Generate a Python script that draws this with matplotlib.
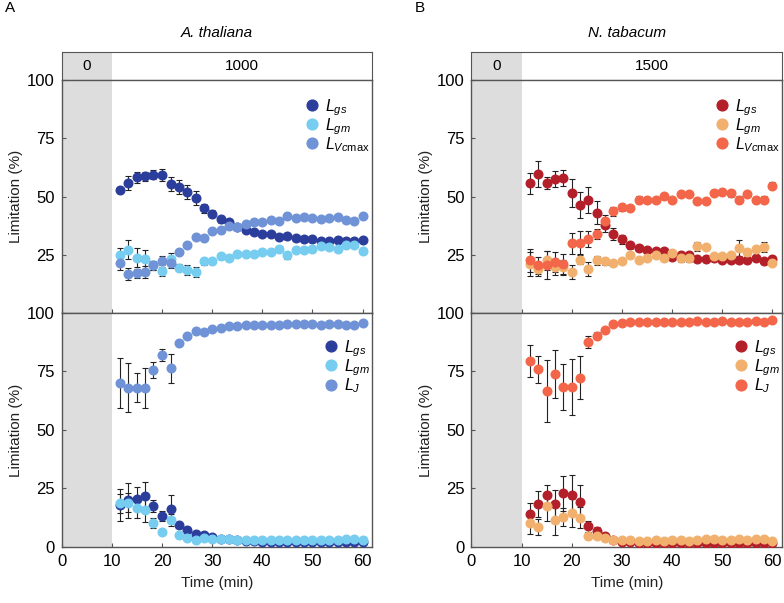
import numpy as np
import matplotlib
matplotlib.use("Agg")
import matplotlib.pyplot as plt

plt.rcParams['font.family'] = ['Liberation Sans', 'DejaVu Sans']
plt.rcParams['mathtext.fontset'] = 'custom'
plt.rcParams['mathtext.it'] = 'Liberation Sans:italic'
plt.rcParams['mathtext.rm'] = 'Liberation Sans'
plt.rcParams['mathtext.sf'] = 'Liberation Sans'

# tempos de amostragem (min)
time = [11.7, 13.3, 15.0, 16.7, 18.3, 20.0, 21.7, 23.3, 25.0, 26.7,
        28.3, 30.0, 31.7, 33.3, 35.0, 36.7, 38.3, 40.0, 41.7, 43.3,
        45.0, 46.7, 48.3, 50.0, 51.7, 53.3, 55.0, 56.7, 58.3, 60.0]

# A. thaliana, painel superior
at_gs = [52.9, 55.8, 58.2, 58.7, 59.4, 59.2, 55.3, 53.9, 52.0, 49.3,
         44.9, 42.5, 40.2, 39.0, 37.0, 35.8, 34.8, 34.1, 33.7, 32.7,
         32.9, 32.1, 31.8, 31.6, 31.1, 31.1, 31.2, 31.1, 31.1, 31.4]
at_gs_err = [1.0, 3.0, 2.5, 2.0, 2.0, 2.5, 3.0, 3.0, 3.0, 3.0,
             2.0, 1.5, 1.5, 1.5, 1.0, 1.0, 1.0, 1.0, 1.0, 1.0,
             1.0, 1.0, 1.0, 1.0, 1.0, 1.0, 1.0, 1.0, 1.0, 1.0]
at_gm = [25.1, 27.2, 23.8, 23.1, 20.4, 17.9, 23.3, 19.5, 18.5, 17.6,
         22.3, 22.3, 24.3, 23.7, 25.3, 25.3, 25.3, 26.3, 26.3, 27.6,
         24.7, 27.2, 27.2, 27.5, 28.6, 28.3, 27.3, 29.3, 29.3, 26.6]
at_gm_err = [3.0, 4.0, 4.0, 4.0, 2.0, 2.0, 2.5, 1.5, 2.0, 2.0,
             1.5, 1.0, 1.0, 1.0, 1.0, 1.0, 1.0, 1.0, 1.0, 1.0,
             1.5, 1.0, 1.0, 1.0, 1.0, 1.0, 1.0, 1.0, 1.0, 1.0]
at_vc = [21.5, 16.8, 17.1, 17.5, 20.4, 22.5, 21.4, 26.2, 29.0, 32.7,
         32.2, 35.1, 35.5, 37.3, 37.0, 38.0, 39.2, 39.2, 39.9, 39.6,
         41.8, 40.6, 41.0, 40.6, 40.3, 40.6, 41.2, 39.9, 39.7, 41.8]
at_vc_err = [3.0, 2.5, 2.0, 2.5, 2.0, 2.0, 2.0, 1.0, 1.0, 1.0,
             1.0, 1.0, 1.0, 1.0, 1.0, 1.0, 1.0, 1.0, 1.0, 1.0,
             1.0, 1.0, 1.0, 1.0, 1.0, 1.0, 1.0, 1.0, 1.0, 1.0]

# A. thaliana, painel inferior
at_gs2 = [17.9, 20.0, 20.7, 21.7, 17.4, 13.3, 16.1, 9.3, 7.4, 5.7,
          5.3, 4.3, 3.6, 3.6, 2.9, 2.6, 2.4, 2.3, 2.3, 2.2,
          2.2, 2.1, 2.1, 2.1, 2.1, 2.0, 2.0, 2.0, 2.0, 2.0]
at_gs2_err = [7.0, 7.5, 5.0, 6.0, 2.5, 2.0, 6.0, 1.0, 1.0, 0.8,
              0.8, 0.8, 0.8, 0.8, 0.8, 0.8, 0.8, 0.8, 0.8, 0.8,
              0.8, 0.8, 0.8, 0.8, 0.8, 0.8, 0.8, 0.8, 0.8, 0.8]
at_gm2 = [18.6, 18.9, 16.7, 15.7, 10.3, 6.4, 11.4, 5.0, 4.0, 2.9,
          4.0, 3.3, 3.6, 3.3, 3.1, 3.0, 3.0, 3.0, 3.0, 3.0,
          3.1, 2.9, 3.0, 3.0, 3.0, 2.9, 3.0, 3.2, 3.2, 3.0]
at_gm2_err = [4.0, 4.0, 4.5, 5.0, 2.0, 1.0, 2.5, 0.8, 0.8, 0.8,
              0.8, 0.8, 0.8, 0.8, 0.8, 0.8, 0.8, 0.8, 0.8, 0.8,
              0.8, 0.8, 0.8, 0.8, 0.8, 0.8, 0.8, 0.8, 0.8, 0.8]
at_j = [70.0, 68.1, 68.1, 68.1, 75.6, 82.1, 76.3, 87.1, 90.0, 92.1,
        91.7, 93.1, 93.6, 94.3, 94.6, 94.7, 94.7, 94.9, 95.0, 94.9,
        95.4, 95.1, 95.1, 95.1, 95.0, 95.1, 95.1, 94.9, 94.9, 95.7]
at_j_err = [10.7, 10.4, 6.3, 8.5, 3.5, 2.5, 6.3, 1.0, 0.8, 0.8,
            0.8, 0.8, 0.8, 0.8, 0.8, 0.8, 0.8, 0.8, 0.8, 0.8,
            0.8, 0.8, 0.8, 0.8, 0.8, 0.8, 0.8, 0.8, 0.8, 0.8]

# N. tabacum, painel superior
nt_gs = [55.7, 59.6, 55.9, 57.6, 58.0, 51.6, 46.4, 48.6, 43.0, 37.6,
         34.0, 31.6, 29.0, 28.0, 27.1, 26.6, 26.6, 24.0, 25.1, 25.1,
         23.0, 23.0, 23.7, 22.6, 22.9, 22.6, 22.6, 23.6, 22.3, 23.3]
nt_gs_err = [4.5, 5.5, 2.5, 3.5, 3.5, 6.0, 5.5, 5.5, 5.0, 3.0,
             2.5, 2.0, 1.5, 1.2, 1.0, 1.0, 1.0, 1.0, 1.0, 1.0,
             1.0, 1.0, 1.0, 1.0, 1.0, 1.0, 1.0, 1.0, 1.0, 1.0]
nt_gm = [21.1, 19.0, 22.6, 19.7, 19.7, 17.4, 22.9, 18.7, 22.6, 22.3,
         21.4, 22.3, 24.7, 22.6, 23.6, 24.7, 23.4, 25.7, 23.6, 23.6,
         28.6, 28.3, 24.3, 24.4, 24.7, 27.9, 26.1, 27.3, 28.3, 21.4]
nt_gm_err = [5.0, 3.0, 4.0, 3.5, 3.0, 3.0, 2.0, 3.0, 2.0, 1.5,
             1.0, 1.0, 1.0, 1.0, 1.0, 1.0, 1.0, 1.0, 1.5, 1.5,
             2.0, 1.0, 1.0, 1.0, 1.0, 3.5, 1.0, 1.0, 2.0, 1.0]
nt_vc = [22.6, 20.4, 20.7, 21.9, 20.9, 30.0, 30.2, 31.7, 33.9, 39.4,
         43.7, 45.4, 45.1, 48.6, 48.7, 48.7, 50.1, 48.7, 50.9, 51.0,
         48.0, 48.0, 51.7, 52.1, 51.4, 48.6, 50.9, 48.7, 48.7, 54.7]
nt_vc_err = [5.0, 3.5, 6.0, 4.5, 4.5, 4.5, 5.0, 3.5, 2.0, 2.5,
             2.0, 1.5, 1.0, 1.5, 1.0, 1.0, 1.0, 1.0, 1.0, 1.0,
             1.0, 1.0, 1.0, 1.0, 1.5, 1.5, 1.0, 1.0, 1.5, 1.5]

# N. tabacum, painel inferior
nt_gs2 = [14.1, 18.3, 22.0, 18.3, 23.0, 22.4, 19.3, 8.8, 7.0, 4.5,
          2.8, 2.2, 2.0, 1.8, 1.8, 1.7, 1.7, 1.6, 1.6, 1.6,
          1.6, 1.5, 1.6, 1.5, 1.5, 1.6, 1.5, 1.6, 1.5, 1.5]
nt_gs2_err = [4.5, 5.5, 4.5, 6.0, 7.5, 8.5, 7.0, 2.5, 1.5, 1.0,
              0.8, 0.8, 0.8, 0.8, 0.8, 0.8, 0.8, 0.8, 0.8, 0.8,
              0.8, 0.8, 0.8, 0.8, 0.8, 0.8, 0.8, 0.8, 0.8, 0.8]
nt_gm2 = [10.2, 8.5, 17.3, 11.6, 12.8, 14.5, 12.4, 4.8, 4.8, 3.8,
          3.1, 2.8, 2.8, 2.7, 2.7, 2.8, 2.7, 2.8, 2.8, 2.7,
          2.8, 3.2, 3.3, 2.9, 2.8, 3.3, 3.0, 3.3, 3.3, 2.5]
nt_gm2_err = [4.5, 3.5, 6.0, 6.5, 4.0, 6.0, 4.5, 1.5, 1.0, 0.8,
              0.8, 0.8, 0.8, 0.8, 0.8, 0.8, 0.8, 0.8, 0.8, 0.8,
              0.8, 0.8, 0.8, 0.8, 0.8, 0.8, 0.8, 0.8, 0.8, 0.8]
nt_j = [79.5, 76.0, 66.8, 74.0, 68.5, 68.5, 72.4, 87.6, 90.2, 92.9,
        95.2, 95.7, 96.0, 96.0, 96.2, 96.2, 96.3, 96.2, 96.3, 96.3,
        96.4, 96.2, 96.0, 96.4, 96.3, 96.2, 96.0, 96.4, 96.2, 97.0]
nt_j_err = [6.9, 5.8, 13.2, 10.2, 9.8, 11.9, 9.1, 2.5, 1.5, 1.0,
            0.8, 0.8, 0.8, 0.8, 0.8, 0.8, 0.8, 0.8, 0.8, 0.8,
            0.8, 0.8, 0.8, 0.8, 0.8, 0.8, 0.8, 0.8, 0.8, 0.8]

blues = ['#2B3E9C', '#76CDEF', '#7092D6']
reds = ['#B4202A', '#F1B06E', '#F3664A']
shade = '#DCDDDC'
frame = '#555555'

fig = plt.figure(figsize=(7.84, 6.03), dpi=100)


def style(ax, yticks):
    ax.set_xlim(0, 61.9)
    ax.set_ylim(0, 100)
    ax.axvspan(0, 10, color=shade, lw=0, zorder=0)
    ax.set_yticks(yticks)
    ax.set_xticks([0, 10, 20, 30, 40, 50, 60])
    ax.tick_params(direction='in', length=3, labelsize=12, color=frame, pad=5)
    for s in ax.spines.values():
        s.set_color(frame)
        s.set_linewidth(1.0)
    ax.set_ylabel('Limitation (%)', fontsize=11, color='#222222', labelpad=3)


def series(ax, y, err, color, label):
    ax.errorbar(time, y, yerr=err, fmt='o', ms=6.2, color=color, mec=color,
                ecolor='#222222', elinewidth=0.8, capsize=2, capthick=0.8,
                label=label, zorder=3)


def panel(x0, colors, vals, light, title, letter):
    w = 0.396
    head = fig.add_axes([x0, 0.8673, w, 0.0464])
    head.set_xlim(0, 61.9)
    head.set_ylim(0, 1)
    head.axvspan(0, 10, color=shade, lw=0)
    head.set_xticks([])
    head.set_yticks([])
    for s in head.spines.values():
        s.set_color(frame)
    head.text(5, 0.5, '0', ha='center', va='center', fontsize=11)
    head.text(36, 0.5, light, ha='center', va='center', fontsize=11)
    head.set_title(title, fontsize=11, style='italic', pad=11)

    top = fig.add_axes([x0, 0.4809, w, 0.3864])
    bot = fig.add_axes([x0, 0.0929, w, 0.3881])
    style(top, [25, 50, 75, 100])
    style(bot, [0, 25, 50, 75, 100])
    top.tick_params(labelbottom=False)

    labs_top = [r'$L_{gs}$', r'$L_{gm}$', r'$L_{Vc\mathrm{max}}$']
    labs_bot = [r'$L_{gs}$', r'$L_{gm}$', r'$L_{J}$']
    for i in range(3):
        series(top, vals[0][i][0], vals[0][i][1], colors[i], labs_top[i])
        series(bot, vals[1][i][0], vals[1][i][1], colors[i], labs_bot[i])

    for ax, anchor in [(top, (1.03, 0.975)), (bot, (1.03, 0.94))]:
        h, l = ax.get_legend_handles_labels()
        h = [hh[0] for hh in h]
        ax.legend(h, l, loc='upper right', bbox_to_anchor=anchor, frameon=False,
                  fontsize=11.5, markerscale=1.25, handletextpad=0.25,
                  labelspacing=-0.1, handlelength=1.2, borderaxespad=0.3)
    bot.set_xlabel('Time (min)', fontsize=11, color='#222222', labelpad=5)
    fig.text(x0 - 0.073, 0.986, letter, fontsize=11, va='center')


panel(0.0787, blues,
      [[(at_gs, at_gs_err), (at_gm, at_gm_err), (at_vc, at_vc_err)],
       [(at_gs2, at_gs2_err), (at_gm2, at_gm2_err), (at_j, at_j_err)]],
      '1000', 'A. thaliana', 'A')
panel(0.6014, reds,
      [[(nt_gs, nt_gs_err), (nt_gm, nt_gm_err), (nt_vc, nt_vc_err)],
       [(nt_gs2, nt_gs2_err), (nt_gm2, nt_gm2_err), (nt_j, nt_j_err)]],
      '1500', 'N. tabacum', 'B')

fig.savefig('out.png', dpi=100)
